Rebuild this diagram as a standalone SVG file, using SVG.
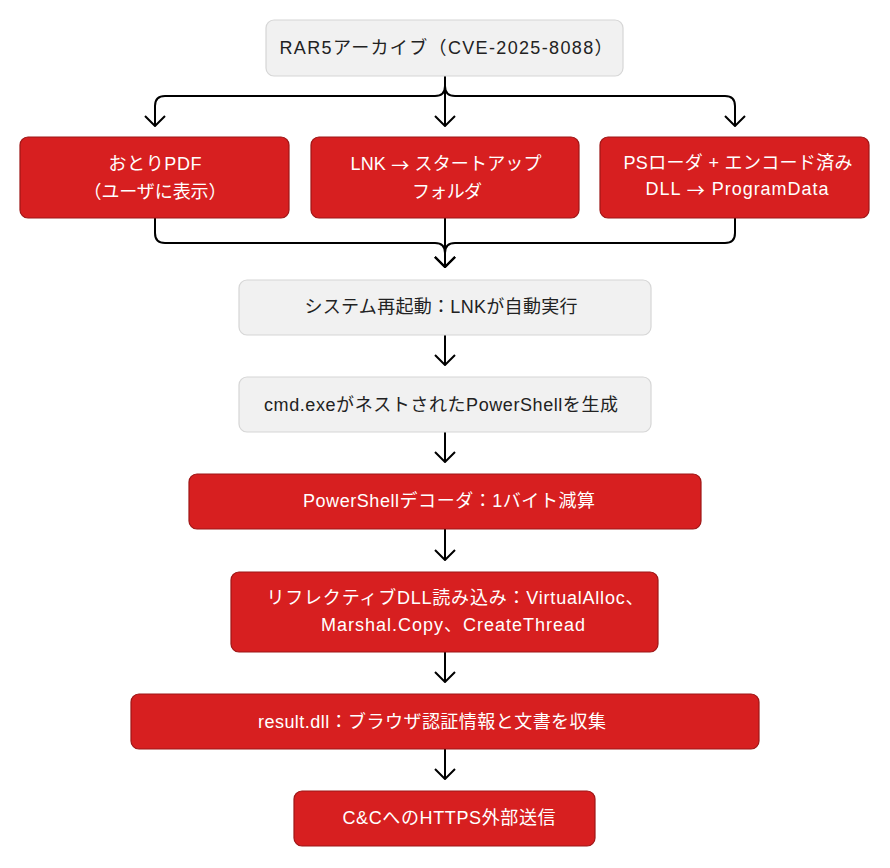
<svg xmlns="http://www.w3.org/2000/svg" width="890" height="868" viewBox="0 0 890 868">
<defs>
<style>
.g rect{fill:#f1f1f1;stroke:#d6d6d6;stroke-width:1.2}
.r rect{fill:#d71f20;stroke:#9e1616;stroke-width:1.2}
text{font-family:"Liberation Sans","Noto Sans CJK JP",sans-serif;font-size:18px;text-anchor:middle;dominant-baseline:central}
.ar{font-family:"Noto Sans CJK JP",sans-serif}
.g text{fill:#222}
.r text{fill:#fff}
#connectors path{fill:none;stroke:#000;stroke-width:2;marker-end:url(#ah)}
</style>
<marker id="ah" viewBox="0 -11 12 22" refX="11" refY="0" markerWidth="12" markerHeight="22" markerUnits="userSpaceOnUse" orient="auto">
<path d="M1,-10 L11,0 L1,10" fill="none" stroke="#000" stroke-width="2"/>
</marker>
</defs>
<rect width="890" height="868" fill="#fff"/>
<g id="connectors">
<path d="M445,76 L445,86 Q445,96 435,96 L165,96 Q155,96 155,106 L155,126"/>
<path d="M445,76 L445,126"/>
<path d="M445,76 L445,86 Q445,96 455,96 L725,96 Q735,96 735,106 L735,126"/>
<path d="M155,218 L155,233 Q155,243 165,243 L435,243 Q445,243 445,253 L445,267"/>
<path d="M445,218 L445,267"/>
<path d="M735,218 L735,233 Q735,243 725,243 L455,243 Q445,243 445,253 L445,267"/>
<path d="M445,335 L445,365"/>
<path d="M445,432 L445,462"/>
<path d="M445,529 L445,560"/>
<path d="M445,652 L445,682"/>
<path d="M445,749 L445,779"/>
</g>
<g id="n1" class="g"><rect x="266" y="20" width="357" height="56" rx="8"/><text x="446" y="48" textLength="333">RAR5アーカイブ（CVE-2025-8088）</text></g>
<g id="n2" class="r"><rect x="20" y="137" width="269" height="81" rx="8"/><text x="155" y="164" textLength="93">おとりPDF</text><text x="155" y="192" textLength="143">（ユーザに表示）</text></g>
<g id="n3" class="r"><rect x="311" y="137" width="268" height="81" rx="8"/><text x="446" y="164" textLength="191">LNK <tspan class="ar">→</tspan> スタートアップ</text><text x="447" y="192" textLength="70">フォルダ</text></g>
<g id="n4" class="r"><rect x="600" y="137" width="269" height="81" rx="8"/><text x="738" y="163" textLength="229">PSローダ + エンコード済み</text><text x="737" y="189" textLength="183">DLL <tspan class="ar">→</tspan> ProgramData</text></g>
<g id="n5" class="g"><rect x="239" y="280" width="412" height="55" rx="8"/><text x="441" y="307" textLength="273">システム再起動：LNKが自動実行</text></g>
<g id="n6" class="g"><rect x="239" y="377" width="412" height="55" rx="8"/><text x="441" y="405" textLength="354">cmd.exeがネストされたPowerShellを生成</text></g>
<g id="n7" class="r"><rect x="189" y="474" width="512" height="55" rx="8"/><text x="449" y="501" textLength="292">PowerShellデコーダ：1バイト減算</text></g>
<g id="n8" class="r"><rect x="231" y="572" width="427" height="80" rx="8"/><text x="455" y="598" textLength="377">リフレクティブDLL読み込み：VirtualAlloc、</text><text x="453" y="625" textLength="264">Marshal.Copy、CreateThread</text></g>
<g id="n9" class="r"><rect x="131" y="694" width="628" height="55" rx="8"/><text x="432" y="722" textLength="348">result.dll：ブラウザ認証情報と文書を収集</text></g>
<g id="n10" class="r"><rect x="294" y="791" width="301" height="55" rx="8"/><text x="449" y="818" textLength="213">C&amp;CへのHTTPS外部送信</text></g>
</svg>
